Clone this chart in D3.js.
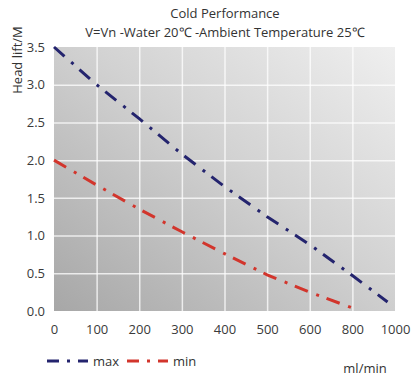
<html>
<head>
<style>
body { margin: 0; background: #fff; }
text { font-family: "Open Sans", sans-serif; fill: #333; }
.grid line { stroke: #fff; stroke-opacity: 0.75; stroke-width: 1.5px; }
.grid path { display: none; }
.axis path, .axis line { display: none; }
.axis text { font-size: 13px; fill: #3a3a3a; }
</style>
</head>
<body>
<svg></svg>
<script src="https://cdn.jsdelivr.net/npm/d3@7"></script>
<script>
// tick labels on the x axis are evenly spaced even though the values are not
var xTicks = [0, 100, 200, 300, 400, 500, 600, 800, 1000];
var yTicks = [0, 0.5, 1.0, 1.5, 2.0, 2.5, 3.0, 3.5];

var flowMax = [0, 100, 200, 300, 400, 500, 600, 800, 965];
var headMax = [3.5, 3.0, 2.55, 2.08, 1.65, 1.25, 0.88, 0.47, 0.12];

var flowMin = [0, 100, 200, 300, 400, 500, 600, 800];
var headMin = [2.0, 1.67, 1.35, 1.05, 0.76, 0.48, 0.25, 0.04];

var series = [
  { name: "max", flow: flowMax, head: headMax, color: "#24246e" },
  { name: "min", flow: flowMin, head: headMin, color: "#d2352c" }
];

var width = 415, height = 380;
var margin = { top: 47, right: 20, bottom: 69, left: 54 };
var w = width - margin.left - margin.right,
    h = height - margin.top - margin.bottom;

var svg = d3.select("svg")
    .attr("width", width)
    .attr("height", height);

var x = d3.scaleLinear()
    .domain(xTicks)
    .range(xTicks.map(function(d, i) { return i * w / (xTicks.length - 1); }));

var y = d3.scaleLinear()
    .domain([0, 3.5])
    .range([h, 0]);

var defs = svg.append("defs");
var grad = defs.append("linearGradient")
    .attr("id", "bg")
    .attr("x1", "0%").attr("y1", "100%")
    .attr("x2", "100%").attr("y2", "0%");
grad.append("stop").attr("offset", "0%").attr("stop-color", "#a7a7a7");
grad.append("stop").attr("offset", "55%").attr("stop-color", "#d2d2d2");
grad.append("stop").attr("offset", "100%").attr("stop-color", "#efefef");

var g = svg.append("g")
    .attr("transform", "translate(" + margin.left + "," + margin.top + ")");

g.append("rect")
    .attr("width", w)
    .attr("height", h)
    .attr("fill", "url(#bg)");

g.append("g")
    .attr("class", "grid")
    .attr("transform", "translate(0," + h + ")")
    .call(d3.axisBottom(x).tickValues(xTicks.slice(1, -1)).tickSize(-h).tickFormat(""));

g.append("g")
    .attr("class", "grid")
    .call(d3.axisLeft(y).tickValues(yTicks.slice(1, -1)).tickSize(-w).tickFormat(""));

g.append("g")
    .attr("class", "axis")
    .call(d3.axisLeft(y).tickValues(yTicks).tickSize(0).tickPadding(9).tickFormat(d3.format(".1f")));

g.append("g")
    .attr("class", "axis")
    .attr("transform", "translate(0," + h + ")")
    .call(d3.axisBottom(x).tickValues(xTicks).tickSize(0).tickPadding(14).tickFormat(d3.format("d")));

var line = d3.line()
    .x(function(d) { return x(d[0]); })
    .y(function(d) { return y(d[1]); });

var dash = "14,9,3,8";

series.forEach(function(s) {
  g.append("path")
      .datum(d3.zip(s.flow, s.head))
      .attr("d", line)
      .attr("fill", "none")
      .attr("stroke", s.color)
      .attr("stroke-width", 3)
      .attr("stroke-dasharray", dash);
});

// titles
svg.append("text")
    .attr("x", 225).attr("y", 18)
    .attr("text-anchor", "middle")
    .style("font-size", "13px")
    .text("Cold Performance");

svg.append("text")
    .attr("x", 225).attr("y", 37)
    .attr("text-anchor", "middle")
    .style("font-size", "13px")
    .text("V=Vn -Water 20\u2103 -Ambient Temperature 25\u2103");

svg.append("text")
    .attr("transform", "translate(22,60) rotate(-90)")
    .attr("text-anchor", "middle")
    .style("font-size", "13px")
    .text("Head lift/M");

svg.append("text")
    .attr("x", 365).attr("y", 373)
    .attr("text-anchor", "middle")
    .style("font-size", "13px")
    .text("ml/min");

// legend
var legend = svg.append("g")
    .attr("transform", "translate(47,361)");

var item = legend.selectAll("g")
    .data(series)
    .enter().append("g")
    .attr("transform", function(d, i) { return "translate(" + (i * 80) + ",0)"; });

item.append("line")
    .attr("x1", 0).attr("x2", 41)
    .attr("stroke", function(d) { return d.color; })
    .attr("stroke-width", 3)
    .attr("stroke-dasharray", "12,8,3,8");

item.append("text")
    .attr("x", 46).attr("dy", "0.35em")
    .style("font-size", "13px")
    .text(function(d) { return d.name; });
</script>
</body>
</html>
